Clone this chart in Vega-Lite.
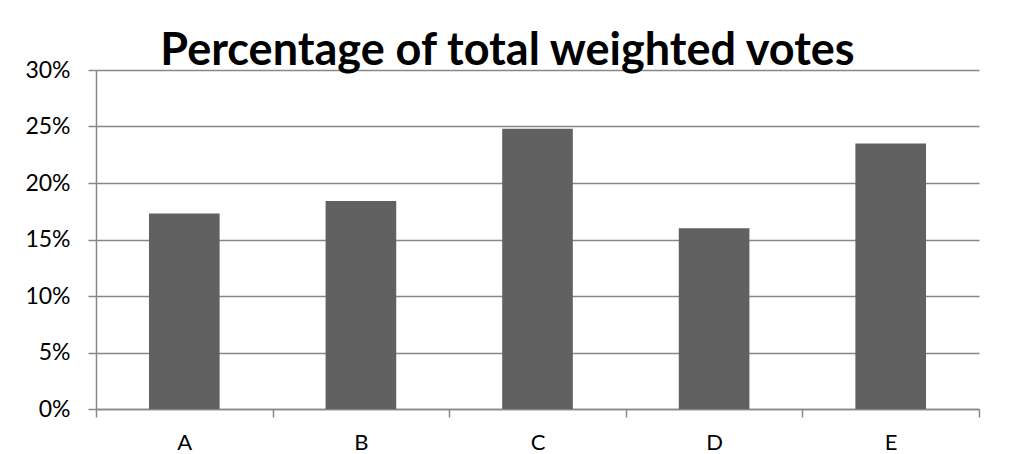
{
  "$schema": "https://vega.github.io/schema/vega-lite/v6.json",
  "width": 883,
  "height": 339,
  "autosize": {"type": "none"},
  "padding": {"left": 96, "top": 70, "right": 31, "bottom": 45},
  "background": "white",
  "title": {
    "text": "Percentage of total weighted votes",
    "font": "Lato",
    "fontSize": 45,
    "fontWeight": "bold",
    "color": "black",
    "anchor": "middle",
    "frame": "group",
    "dx": -30,
    "dy": 51,
    "offset": 0,
    "baseline": "alphabetic"
  },
  "data": {
    "values": [
      {"candidate": "A", "share": 0.173},
      {"candidate": "B", "share": 0.184},
      {"candidate": "C", "share": 0.248},
      {"candidate": "D", "share": 0.160},
      {"candidate": "E", "share": 0.235}
    ]
  },
  "mark": {"type": "bar", "color": "#616161", "width": {"band": 0.4}},
  "encoding": {
    "x": {
      "field": "candidate",
      "type": "nominal",
      "scale": {"paddingInner": 0, "paddingOuter": 0},
      "axis": {
        "title": null,
        "labelAngle": 0,
        "tickBand": "extent",
        "domainColor": "#888888",
        "tickColor": "#888888",
        "tickSize": 8,
        "labelPadding": 15,
        "labelFont": "Lato",
        "labelFontSize": 22,
        "labelColor": "black",
        "grid": false
      }
    },
    "y": {
      "field": "share",
      "type": "quantitative",
      "scale": {"domain": [0, 0.3], "nice": false},
      "axis": {
        "title": null,
        "format": ".0%",
        "values": [0, 0.05, 0.1, 0.15, 0.2, 0.25, 0.3],
        "domainColor": "#888888",
        "tickColor": "#888888",
        "gridColor": "#888888",
        "tickSize": 8,
        "labelPadding": 18,
        "labelFont": "Lato",
        "labelFontSize": 23,
        "labelColor": "black"
      }
    }
  },
  "config": {
    "view": {"stroke": null},
    "axis": {"domainWidth": 1.5, "tickWidth": 1.5, "gridWidth": 1.5}
  }
}
